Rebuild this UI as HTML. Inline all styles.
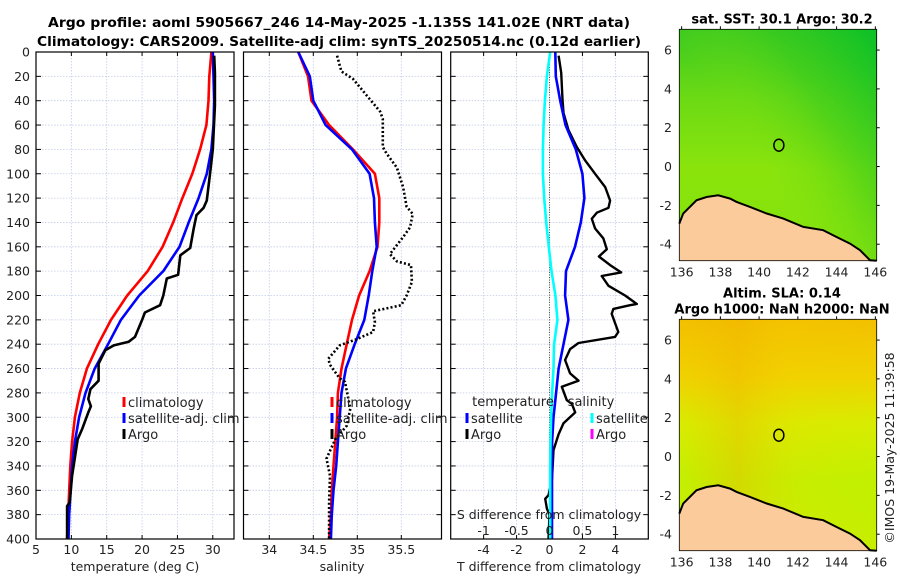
<!DOCTYPE html>
<html><head><meta charset="utf-8"><style>
body{margin:0;background:#fff}
svg{display:block;font-family:"DejaVu Sans","Liberation Sans",sans-serif}
</style></head><body>
<svg id="fig" width="900" height="580" viewBox="0 0 900 580" xmlns="http://www.w3.org/2000/svg">
<rect width="900" height="580" fill="#fff"/>
<text x="339" y="27" text-anchor="middle" font-size="13" font-weight="bold" textLength="582" lengthAdjust="spacingAndGlyphs">Argo profile: aoml 5905667_246 14-May-2025 -1.135S 141.02E (NRT data)</text>
<text x="339" y="46" text-anchor="middle" font-size="13" font-weight="bold" textLength="604" lengthAdjust="spacingAndGlyphs">Climatology: CARS2009. Satellite-adj clim: synTS_20250514.nc (0.12d earlier)</text>
<g id="panels"></g>
<g id="maps"></g>
<text transform="translate(894,448) rotate(-90)" text-anchor="middle" font-size="12.5" fill="#222">©IMOS 19-May-2025 11:39:58</text>
</svg>
<script>
// ---- data ----
const climDepth = [0,20,40,60,80,100,120,140,160,180,200,220,240,260,280,300,320,340,360,380,400];
const climTemp = [29.8,29.5,29.4,29.1,28.2,27.1,25.7,24.4,22.9,20.8,17.9,15.6,13.8,12.2,11.2,10.5,10.1,9.85,9.7,9.55,9.4];
const satTemp = [30.0,30.1,30.2,30.1,29.8,29.15,28.0,26.6,25.3,23.0,19.6,17.0,15.2,13.3,12.0,11.1,10.5,10.1,9.9,9.7,9.6];
const climSal = [34.33,34.44,34.48,34.68,34.95,35.2,35.25,35.25,35.23,35.14,35.02,34.94,34.88,34.82,34.78,34.77,34.75,34.73,34.71,34.7,34.68];
const satSal = [34.33,34.46,34.5,34.64,34.94,35.14,35.19,35.2,35.22,35.17,35.13,35.08,34.97,34.87,34.82,34.8,34.78,34.76,34.73,34.71,34.7];
const satTdiff = [0.35,0.38,0.65,0.97,1.6,2.0,2.12,1.9,1.55,1.0,0.95,1.15,0.85,0.55,0.4,0.24,0.16,0.15,0.15,0.15,0.15];
const satSdiff = [0.01,-0.04,-0.07,-0.09,-0.1,-0.1,-0.08,-0.05,-0.01,0.03,0.09,0.12,0.07,0.06,0.04,0.025,0.015,0.01,0.01,0.01,0.01];
const argoTDepth = [3,17,44,80,100,122,128,134,145,161,167,183,186,200,208,214,220,234,238,241,245,256,270,277,285,291,296,310,318,348,370,373,400];
const argoTemp = [30.2,30.3,30.3,30.0,29.6,29.15,28.7,27.7,27.3,26.8,25.4,25.1,23.5,23.0,22.55,20.4,20.0,19.0,18.1,16.0,14.8,13.85,13.85,12.7,12.4,12.76,12.4,11.5,10.9,10.1,9.75,9.4,9.4];
const argoSDepth = [3,11,16,22,36,49,55,78,83,95,111,127,133,144,152,166,172,175,189,200,208,213,222,230,236,241,252,257,268,271,293,307,318,334,348,370,400];
const argoSal = [34.77,34.8,34.82,34.95,35.11,35.26,35.29,35.29,35.33,35.45,35.52,35.56,35.63,35.6,35.52,35.37,35.45,35.61,35.62,35.56,35.5,35.18,35.2,35.18,34.99,34.8,34.67,34.69,34.8,34.86,34.92,34.88,34.75,34.65,34.69,34.68,34.68];
const argoDDepth = [3,17,39,50,64,78,89,100,111,122,128,132,137,145,153,162,168,175,181,184,192,200,207,208,211,215,230,234,239,244,253,264,270,275,286,289,296,305,314,327,351,364,367,375,380,400];
const argoTdiff = [0.55,0.71,0.79,0.85,1.15,1.66,2.16,2.77,3.38,3.68,3.58,2.87,2.57,2.77,3.27,3.48,3.0,3.68,4.35,3.17,3.58,4.59,5.3,4.89,3.88,3.78,4.18,3.98,1.76,1.25,0.95,1.25,1.76,0.75,1.05,1.36,1.56,0.85,0.55,0.24,0.15,-0.06,-0.26,-0.16,0,-0.06];
const depthTicks = [0,20,40,60,80,100,120,140,160,180,200,220,240,260,280,300,320,340,360,380,400];
const tempTicks = [5,10,15,20,25,30];
const salTicks = [34,34.5,35,35.5];
const salTickLabels = ["34","34.5","35","35.5"];
const tdTicks = [-4,-2,0,2,4];
const sdTicks = [-1,-0.5,0,0.5,1];
const sdTickLabels = ["-1","-0.5","0","0.5","1"];
const lonTicks = [136,138,140,142,144,146];
const latTicks = [-4,-2,0,2,4,6];
const coastLon = [135.88,136.08,136.77,137.29,137.89,138.5,138.84,139.53,140.39,141.25,142.28,143.31,144.0,144.69,145.21,145.73,146.07];
const coastLat = [-2.94,-2.42,-1.74,-1.57,-1.48,-1.65,-1.82,-2.08,-2.42,-2.68,-3.11,-3.28,-3.63,-3.97,-4.31,-4.83,-4.85];
const floatLon = 141.02, floatLat = 1.1;

// ---- helpers ----
const NS="http://www.w3.org/2000/svg";
function mk(tag, parent, attrs){const e=document.createElementNS(NS,tag);for(const k in attrs)e.setAttribute(k,attrs[k]);parent.appendChild(e);return e;}
const Y0=52,Y1=539;
const yD = d => Y0 + (d/400)*(Y1-Y0);
function lin(d0,d1,r0,r1){return v=>r0+(v-d0)/(d1-d0)*(r1-r0);}
const panelsG=document.getElementById('panels');
const mapsG=document.getElementById('maps');

function frame(x0,x1,xt,xs,name){
  const g=mk('g',panelsG,{});
  
  
  xt.forEach(v=>{const x=xs(v);
    const l=mk('line',g,{x1:x,x2:x,y1:Y0,y2:Y1,stroke:'#c4cce6','stroke-width':0.8,'stroke-dasharray':'1.5,1.5'});
    
    
    mk('line',g,{x1:x,x2:x,y1:Y1,y2:Y1-4,stroke:'#000'});
    mk('line',g,{x1:x,x2:x,y1:Y0,y2:Y0+4,stroke:'#000'});
  });
  depthTicks.forEach(d=>{const y=yD(d);
    const l=mk('line',g,{x1:x0,x2:x1,y1:y,y2:y,stroke:'#c4cce6','stroke-width':0.8,'stroke-dasharray':'1.5,1.5'});
    
    
    mk('line',g,{x1:x0,x2:x0+5,y1:y,y2:y,stroke:'#000'});
    mk('line',g,{x1:x1,x2:x1-5,y1:y,y2:y,stroke:'#000'});
  });
  return g;
}
function border(x0,x1){const r=mk('rect',panelsG,{x:x0,y:Y0,width:x1-x0,height:Y1-Y0,fill:'none',stroke:'#000','stroke-width':1.2});
  }
function line(g,depths,vals,xs,color,name,dash,w){
  const pts=depths.map((d,i)=>xs(vals[i]).toFixed(1)+','+yD(d).toFixed(1)).join(' ');
  const p=mk('polyline',g,{points:pts,fill:'none',stroke:color,'stroke-width':w||2.6,'stroke-linejoin':'round'});
  if(dash){p.setAttribute('stroke-dasharray',dash);}
  
  
}
function label(g,x,y,t,anchor,size,name){const e=mk('text',g,{x:x,y:y,'text-anchor':anchor||'middle','font-size':size||12.5,fill:'#222'});e.textContent=t;
  return e;}
function legendItem(g,x,y,color,t,name){
  const r=mk('rect',g,{x:x-1.5,y:y-10,width:3,height:10,fill:color});
  
  label(g,x+4,y,t,'start',13,name);
}

// ---- panel 1: temperature ----
const xT=lin(5,33,36,234);
const g1=frame(36,234,tempTicks,xT,'temperature-panel');
line(g1,climDepth,climTemp,xT,'#ff0000','climatology-temp-line');
line(g1,climDepth,satTemp,xT,'#0000ff','satellite-temp-line');
line(g1,argoTDepth,argoTemp,xT,'#000','argo-temp-line');
border(36,234);
depthTicks.forEach(d=>label(panelsG,30,yD(d)+4.5,String(d),'end',12.5,'depth-tick-label'));
tempTicks.forEach(v=>label(panelsG,xT(v),554,String(v),'middle',12.5,'temp-tick-label'));
label(panelsG,135,571,'temperature (deg C)','middle',12.5,'temperature-axis-title');
legendItem(panelsG,124,407,'#ff0000','climatology','legend-climatology');
legendItem(panelsG,124,423,'#0000ff','satellite-adj. clim','legend-satellite');
legendItem(panelsG,124,439,'#000','Argo','legend-argo');

// ---- panel 2: salinity ----
const xS=lin(34,35.5,269.3,401.3);
const g2=frame(243.5,441.5,salTicks,xS,'salinity-panel');
line(g2,climDepth,climSal,xS,'#ff0000','climatology-sal-line');
line(g2,climDepth,satSal,xS,'#0000ff','satellite-sal-line');
line(g2,argoSDepth,argoSal,xS,'#000','argo-sal-line','2,2.2',2.6);
border(243.5,441.5);
salTicks.forEach((v,i)=>label(panelsG,xS(v),554,salTickLabels[i],'middle',12.5,'salinity-tick-label'));
label(panelsG,342,571,'salinity','middle',12.5,'salinity-axis-title');
legendItem(panelsG,332,407,'#ff0000','climatology','legend-climatology-sal');
legendItem(panelsG,332,423,'#0000ff','satellite-adj. clim','legend-satellite-sal');
legendItem(panelsG,332,439,'#000','Argo','legend-argo-sal');

// ---- panel 3: differences ----
const xTD=lin(-6,6,450.7,648.3);
const xSD=v=>xTD(v*4);
const g3=frame(450.7,648.3,tdTicks,xTD,'difference-panel');
const zl=mk('line',g3,{x1:xTD(0),x2:xTD(0),y1:Y0,y2:Y1,stroke:'#554','stroke-width':1,'stroke-dasharray':'1,1.5'});

line(g3,argoDDepth,argoTdiff,xTD,'#000','argo-tdiff-line',null,2.4);
line(g3,climDepth,satTdiff,xTD,'#0000ff','satellite-tdiff-line');
line(g3,climDepth,satSdiff,xSD,'#00ffff','satellite-sdiff-line');
border(450.7,648.3);
tdTicks.forEach(v=>label(panelsG,xTD(v),554,String(v),'middle',12.5,'tdiff-tick-label'));
label(panelsG,549,571,'T difference from climatology','middle',12.5,'tdiff-axis-title');
label(panelsG,549,519,'S difference from climatology','middle',12.5,'sdiff-axis-title');
sdTicks.forEach((v,i)=>label(panelsG,xSD(v),535,sdTickLabels[i],'middle',12.5,'sdiff-tick-label'));
label(panelsG,513,406,'temperature','middle',13,'legend-temperature-heading');
label(panelsG,591,406,'salinity','middle',13,'legend-salinity-heading');
legendItem(panelsG,467,423,'#0000ff','satellite','legend-tdiff-satellite');
legendItem(panelsG,467,439,'#000','Argo','legend-tdiff-argo');
legendItem(panelsG,592,423,'#00ffff','satellite','legend-sdiff-satellite');
legendItem(panelsG,592,439,'#ff00ff','Argo','legend-sdiff-argo');

// ---- maps ----
const MX0=679.3,MX1=876.7;
const mLon=lin(135.88,146.07,MX0,MX1);
function drawMap(top,bottom,id,fills,title){
  const mLat=lin(7.07,-4.85,top,bottom);
  const g=mk('g',mapsG,{});
  
  
  const defs=mk('defs',g,{});
  fills.forEach((f,i)=>{
    const lg=mk('linearGradient',defs,{id:id+'g'+i,x1:f[0],y1:f[1],x2:f[2],y2:f[3]});
    f[4].forEach(s=>mk('stop',lg,{offset:s[0],'stop-color':s[1],'stop-opacity':s[2]===undefined?1:s[2]}));
    mk('rect',g,{x:MX0,y:top,width:MX1-MX0,height:bottom-top,fill:'url(#'+id+'g'+i+')'});
  });
  let pts=coastLon.map((lo,i)=>mLon(lo).toFixed(1)+','+mLat(coastLat[i]).toFixed(1)).join(' ');
  const land=mk('polygon',g,{points:pts+' '+MX1+','+bottom+' '+MX0+','+bottom,fill:'#fbcb9c',stroke:'none'});
  
  const cl=mk('polyline',g,{points:pts,fill:'none',stroke:'#000','stroke-width':2});
  
  const c=mk('ellipse',g,{cx:mLon(floatLon),cy:mLat(floatLat),rx:5,ry:6,fill:'none',stroke:'#000','stroke-width':1.5});
  
  const b=mk('rect',g,{x:MX0,y:top,width:MX1-MX0,height:bottom-top,fill:'none',stroke:'#000','stroke-width':0.8});
  
  lonTicks.forEach(v=>{label(g,mLon(v),bottom+16,String(v),'middle',12.5,'lon-tick-label');
    mk('line',g,{x1:mLon(v),x2:mLon(v),y1:top,y2:top-3,stroke:'#000'});});
  latTicks.forEach(v=>{label(g,672,mLat(v)+4.5,String(v),'end',12.5,'lat-tick-label');
    mk('line',g,{x1:MX1,x2:MX1+3,y1:mLat(v),y2:mLat(v),stroke:'#000'});});
  title.forEach((t,i)=>{const e=label(g,782,top-(title.length-1-i)*16-6,t,'middle',13,id+'-title');e.setAttribute('font-weight','bold');e.setAttribute('fill','#000');});
}
drawMap(29.3,260.7,'sst-map',[
  ['0','0','0','1',[[0,'#3cca20'],[0.3,'#6cda14'],[0.6,'#8ae40c'],[1,'#84e20e']]],
  ['1','0','0','0.7',[[0,'#08c028',0.95],[0.35,'#30c820',0.5],[0.7,'#8ae40c',0]]]
],['sat. SST: 30.1 Argo: 30.2']);
drawMap(319.3,550.7,'sla-map',[
  ['0','0','0','1',[[0,'#f3c000'],[0.25,'#f0d200'],[0.45,'#d8ec00'],[0.7,'#c2f000'],[1,'#c8ee00']]],
  ['0','0','1','0',[[0,'#f0b800',0],[0.3,'#f0b000',0.35],[0.6,'#f8d000',0.1],[1,'#d8e000',0]]]
],['Altim. SLA: 0.14','Argo h1000: NaN h2000: NaN']);
</script>
</body></html>
